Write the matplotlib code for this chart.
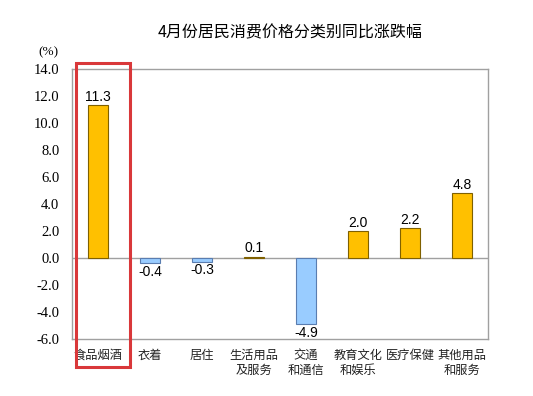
import matplotlib
matplotlib.use("Agg")
import matplotlib.pyplot as plt
from matplotlib.patches import Rectangle

plt.rcParams['font.family'] = ['Noto Sans CJK SC', 'DejaVu Sans']

# 数据
kategorije = ["食品烟酒", "衣着", "居住", "生活用品\n及服务", "交通\n和通信",
              "教育文化\n和娱乐", "医疗保健", "其他用品\n和服务"]
vrijednosti = [11.3, -0.4, -0.3, 0.1, -4.9, 2.0, 2.2, 4.8]
y_ticks = [-6.0, -4.0, -2.0, 0.0, 2.0, 4.0, 6.0, 8.0, 10.0, 12.0, 14.0]

narancasta = "#FFC000"
plava = "#99CCFF"
serif = ["Liberation Serif", "DejaVu Serif"]

fig = plt.figure(figsize=(5.33, 3.96), dpi=100)
ax = fig.add_axes([0.135, 0.144, 0.7805, 0.682])

x = list(range(len(kategorije)))
boje = [narancasta if v >= 0 else plava for v in vrijednosti]
rubovi = ["#7F6000" if v >= 0 else "#5A7DB0" for v in vrijednosti]
ax.bar(x, vrijednosti, width=0.4, color=boje, edgecolor=rubovi, linewidth=0.8, zorder=3)

for xi, v in zip(x, vrijednosti):
    if v >= 0:
        ax.annotate(f"{v:.1f}", (xi, v), xytext=(0, 1), textcoords="offset points",
                    ha="center", va="bottom", fontsize=10, family=["Liberation Sans"])
    else:
        ax.annotate(f"{v:.1f}", (xi, v), xytext=(0, -1), textcoords="offset points",
                    ha="center", va="top", fontsize=10, family=["Liberation Sans"])

ax.axhline(0, color="#A0A0A0", linewidth=1, zorder=2)
ax.set_xlim(-0.5, 7.5)
ax.set_ylim(-6, 14)
ax.set_yticks(y_ticks)
ax.set_yticklabels([f"{t:.1f}" for t in y_ticks])
for lab in ax.get_yticklabels():
    lab.set_fontfamily(serif)
    lab.set_fontsize(10.5)
ax.set_xticks(x)
ax.set_xticklabels(kategorije, fontsize=8.8, linespacing=1.25, color="#222222")
ax.tick_params(axis="y", length=0, pad=9)
ax.tick_params(axis="x", length=0, pad=7)
for s in ax.spines.values():
    s.set_color("#A0A0A0")
    s.set_linewidth(1)

fig.text(0.545, 0.917, "4月份居民消费价格分类别同比涨跌幅", ha="center", va="center",
         fontsize=11.5, fontweight="medium")
fig.text(0.09, 0.868, "(%)", ha="center", va="center", family=serif, fontsize=9.5)

# crveni okvir oko prve kategorije
fig.patches.append(Rectangle((76 / 533, 1 - 367 / 396), 54 / 533, 304 / 396,
                             transform=fig.transFigure, fill=False,
                             edgecolor="#D9383A", linewidth=2.2))

fig.savefig("out.png", dpi=100)
